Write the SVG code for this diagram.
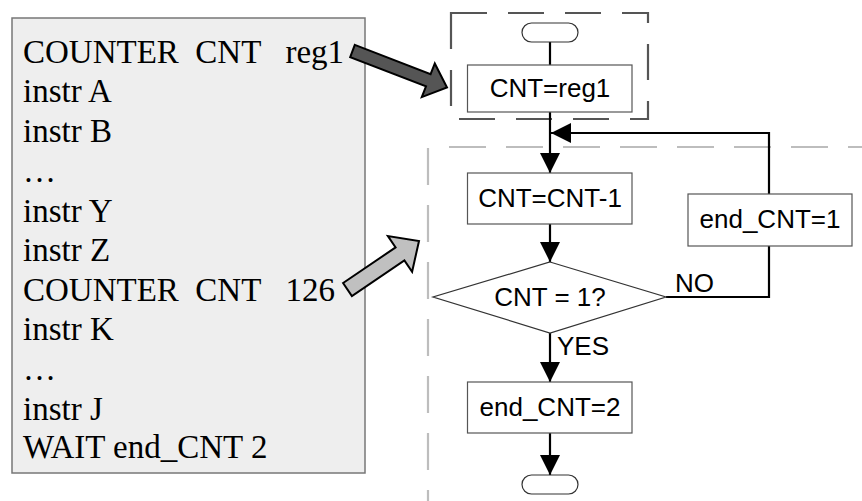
<svg xmlns="http://www.w3.org/2000/svg" width="862" height="501" viewBox="0 0 862 501">
  <defs>
    <marker id="ah" viewBox="0 0 20 20" refX="20" refY="10" markerWidth="20" markerHeight="20" markerUnits="userSpaceOnUse" orient="auto">
      <path d="M0,0 L20,10 L0,20 Z" fill="#000"/>
    </marker>
    <style>
      .code { font-family: "Liberation Serif", "Times New Roman", serif; font-size: 33px; fill: #000; }
      .lbl { font-family: "Liberation Sans", Arial, sans-serif; font-size: 26px; fill: #000; }
      .mid { text-anchor: middle; }
      .box { fill: #fff; stroke: #555; stroke-width: 1.2; }
      .term { fill: #fff; stroke: #333; stroke-width: 1.2; }
      .flow { fill: none; stroke: #000; stroke-width: 2.2; }
      .zone-dark { fill: none; stroke: #555; stroke-width: 2.2; stroke-dasharray: 36 21; }
      .zone-light { fill: none; stroke: #bdbdbd; stroke-width: 2.2; stroke-dasharray: 37 20; }
      .pointer { stroke: #000; stroke-width: 2; stroke-linejoin: miter; }
    </style>
  </defs>

  <!-- program listing -->
  <g id="listing">
    <rect x="12" y="18" width="353" height="455" fill="#eeeeee" stroke="#777" stroke-width="1.5"/>
    <text class="code" x="23" y="63" xml:space="preserve">COUNTER  CNT   reg1</text>
    <text class="code" x="23" y="102">instr A</text>
    <text class="code" x="23" y="142">instr B</text>
    <text class="code" x="23" y="182">…</text>
    <text class="code" x="23" y="222">instr Y</text>
    <text class="code" x="23" y="261">instr Z</text>
    <text class="code" x="23" y="301" xml:space="preserve">COUNTER  CNT   126</text>
    <text class="code" x="23" y="340">instr K</text>
    <text class="code" x="23" y="380">…</text>
    <text class="code" x="23" y="420">instr J</text>
    <text class="code" x="23" y="458">WAIT end_CNT 2</text>
  </g>

  <!-- block arrows from the listing to the flowchart -->
  <g id="pointer-init">
    <polygon class="pointer" fill="#555" points="354.8,44.9 430.6,74.2 434.8,63.5 447,87.5 421.8,97.1 426,86.4 350.2,57.1"/>
  </g>
  <g id="pointer-loop">
    <polygon class="pointer" fill="#c0c0c0" points="343.1,283 395.6,247.4 387.9,236.1 419,241 412.1,271.7 404.4,260.4 351.9,296"/>
  </g>

  <!-- dashed region outlines -->
  <g id="zones">
    <rect id="zone-init" class="zone-dark" x="451" y="13" width="197" height="106"/>
    <path class="zone-light" d="M449,147 H862"/>
    <path class="zone-light" d="M428,148 V501"/>
  </g>

  <!-- connectors -->
  <g id="connectors">
    <path class="flow" d="M550,42 V65"/>
    <path class="flow" d="M550,112 V173" marker-end="url(#ah)"/>
    <path class="flow" d="M550,224 V262" marker-end="url(#ah)"/>
    <path class="flow" d="M550,333 V382" marker-end="url(#ah)"/>
    <path class="flow" d="M550,433 V475" marker-end="url(#ah)"/>
    <path class="flow" d="M666,297 H769 V246"/>
    <path class="flow" d="M769,194 V133 H551" marker-end="url(#ah)"/>
    <text class="lbl" x="675" y="292">NO</text>
    <text class="lbl" x="557" y="355">YES</text>
  </g>

  <!-- flowchart nodes -->
  <g id="start">
    <rect class="term" x="522" y="23" width="56" height="19" rx="9.5"/>
  </g>
  <g id="init">
    <rect class="box" x="467.5" y="65" width="164.5" height="47"/>
    <text class="lbl mid" x="550" y="97">CNT=reg1</text>
  </g>
  <g id="decrement">
    <rect class="box" x="467.5" y="173" width="164.5" height="51"/>
    <text class="lbl mid" x="550" y="207">CNT=CNT-1</text>
  </g>
  <g id="test">
    <polygon fill="#fff" stroke="#333" stroke-width="1.2" points="550,262 666,297 550,333 433,297"/>
    <text class="lbl mid" x="550" y="306">CNT = 1?</text>
  </g>
  <g id="flag1">
    <rect class="box" x="688" y="194" width="164" height="52"/>
    <text class="lbl mid" x="770" y="228">end_CNT=1</text>
  </g>
  <g id="flag2">
    <rect class="box" x="467.5" y="382" width="164.5" height="51"/>
    <text class="lbl mid" x="550" y="416">end_CNT=2</text>
  </g>
  <g id="end">
    <rect class="term" x="522" y="475" width="56" height="19" rx="9.5"/>
  </g>
</svg>
